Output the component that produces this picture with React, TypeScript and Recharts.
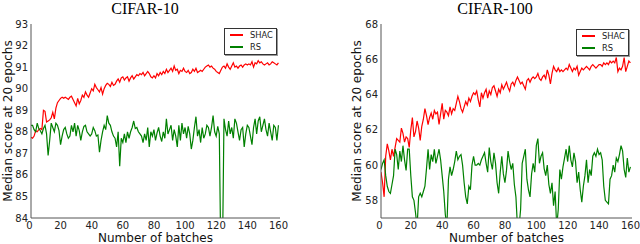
import React from 'react';
import { LineChart, Line, XAxis, YAxis, Legend } from 'recharts';

// CIFAR-10 median score at 20 epochs, batches 0..159
const c10Shac = [
  87.75, 87.7, 87.8, 88.05, 88.0, 88.1, 88.15, 88.1, 89.0, 88.95,
  88.45, 88.5, 88.55, 88.65, 88.9, 88.6, 89.1, 89.35, 89.45, 89.55,
  89.6, 89.55, 89.6, 89.55, 89.5, 89.6, 89.65, 89.5, 89.35, 89.2,
  89.55, 89.3, 89.45, 89.7, 89.6, 89.85, 89.7, 89.6, 89.8, 90.0,
  89.9, 90.2, 90.05, 89.95, 89.85, 90.05, 89.75, 90.0, 90.15, 90.25,
  90.2, 90.1, 90.3, 90.15, 90.2, 90.35, 90.45, 90.3, 90.5, 90.55,
  90.4, 90.5, 90.55, 90.35, 90.5, 90.6, 90.45, 90.55, 90.65, 90.6,
  90.7, 90.65, 90.75, 90.6, 90.7, 90.8, 90.7, 90.55, 90.5, 90.6,
  90.5, 90.7, 90.6, 90.75, 90.65, 90.8, 90.7, 90.9, 90.75, 90.85,
  90.95, 90.8, 91.05, 90.85, 90.9, 90.7, 90.85, 90.8, 90.95, 90.8,
  90.75, 90.85, 90.7, 90.75, 90.9, 90.8, 90.95, 90.75, 90.8, 90.85,
  90.8, 90.9, 91.0, 91.05, 91.1, 91.0, 91.05, 90.95, 90.9, 90.8,
  90.75, 90.7, 90.85, 91.0, 91.05, 90.95, 91.15, 91.0, 90.9, 91.05,
  91.2, 91.0, 91.05, 90.95, 91.05, 91.1, 91.0, 91.1, 91.15, 91.1,
  91.15, 91.1, 91.25, 91.0, 91.2, 91.15, 91.3, 91.2, 91.25, 91.15,
  91.1, 91.15, 91.2, 91.1, 91.15, 91.25, 91.2, 91.15, 91.1, 91.2,
];
const c10Rs = [
  88.3, 88.3, 88.1, 88.0, 88.4, 88.15, 88.05, 87.9, 88.15, 88.3,
  87.9, 86.9, 87.6, 88.4, 88.2, 88.0, 88.4, 88.3, 88.05, 87.4,
  87.8, 88.1, 88.2, 87.9, 87.7, 87.8, 88.3, 88.0, 88.4, 87.8,
  88.3, 88.05, 87.6, 88.0, 88.25, 88.3, 88.0, 87.9, 87.8, 87.9,
  88.2, 88.05, 87.8, 87.85, 87.05, 87.6, 88.0, 88.3, 88.1, 88.75,
  88.4, 88.3, 88.0, 87.8, 87.7, 87.3, 88.0, 86.4, 87.7, 87.5,
  87.9, 87.5, 88.0, 87.7, 88.0, 88.2, 88.5, 88.15, 88.2, 88.0,
  87.9, 87.8, 87.5, 87.9, 87.6, 88.2, 87.3, 88.0, 87.8, 88.1,
  87.6, 87.95, 88.2, 87.8, 87.55, 88.0, 87.7, 88.6, 87.9, 88.1,
  88.3, 87.6, 88.1, 87.8, 87.3, 88.3, 87.6, 88.4, 87.9, 88.2,
  87.7, 88.25, 87.9, 87.2, 87.6, 88.2, 88.7, 87.8, 88.1, 87.5,
  88.2, 87.7, 87.9, 88.3, 88.2, 87.8, 88.2, 88.75, 88.0, 87.8,
  88.25, 87.9, 82.0, 82.0, 88.6, 88.1, 87.8, 88.5, 87.9, 88.2,
  87.7, 88.6, 88.4, 88.0, 87.6, 88.1, 88.2, 87.3, 87.9, 88.3,
  88.2, 87.8, 87.4, 88.2, 88.6, 87.9, 88.5, 88.7, 88.0, 88.3,
  88.6, 88.1, 87.8, 88.4, 88.0, 87.6, 88.3, 88.2, 87.6, 88.3,
];

// CIFAR-100
const c100Shac = [
  59.6, 59.0, 58.2, 60.5, 61.2, 60.8, 60.3, 60.9, 60.5, 61.0,
  61.5, 61.4, 61.3, 62.1, 61.8, 61.3, 61.6, 61.5, 61.0, 62.0,
  62.7, 61.6, 61.9, 62.5, 62.1, 61.4, 62.2, 62.6, 63.2, 62.8,
  62.3, 62.7, 62.95, 62.6, 63.1, 62.9, 63.0, 62.3, 62.9, 63.5,
  62.6, 63.1, 63.0, 62.8, 63.3, 62.9, 63.2, 63.1, 63.5, 63.9,
  63.6, 63.2, 63.0, 63.3, 63.6, 63.4, 63.8, 63.6, 63.9, 64.1,
  64.0, 64.2, 63.7, 63.3, 64.1, 63.8, 64.1, 64.3, 63.8, 64.2,
  64.0, 64.4, 64.5, 64.2, 63.9, 64.3, 64.1, 64.55, 64.3, 64.5,
  64.7, 64.4, 64.2, 64.6, 64.7, 64.5, 64.8, 65.0, 64.8, 64.6,
  64.7, 64.5, 64.3, 64.8, 64.9, 64.7, 64.9, 65.0, 64.9, 65.0,
  65.2, 64.9, 64.8, 65.0, 65.1, 64.9, 65.4, 65.1, 64.6, 65.2,
  65.6, 65.4, 65.3, 65.5, 65.3, 65.4, 65.3, 65.4, 65.5, 65.4,
  65.7, 65.5, 65.3, 65.5, 65.4, 65.6, 65.1, 65.3, 65.5, 65.4,
  65.5, 65.6, 65.5, 65.4, 65.6, 65.7, 65.6, 65.5, 65.6, 65.7,
  65.7, 65.6, 65.8, 65.7, 65.8, 65.7, 65.9, 65.8, 65.9, 65.8,
  66.1, 65.3, 65.5, 65.4, 65.6, 66.1, 65.3, 65.6, 65.9, 65.8,
];
const c100Rs = [
  59.75, 60.1, 60.3, 59.4, 58.8, 58.5, 58.4, 58.9, 59.4, 60.9,
  60.6, 59.75, 60.8, 60.2, 61.1, 60.3, 59.7, 60.9, 60.9, 59.4,
  58.2, 58.0, 57.3, 56.5, 58.2, 58.4, 58.2, 58.5, 58.8, 59.8,
  60.9, 59.75, 60.6, 60.2, 60.9, 60.1, 60.5, 60.9, 60.3, 59.4,
  58.5, 57.2, 56.5, 59.2, 59.9, 59.4, 59.75, 60.2, 60.8, 60.3,
  60.5, 60.6, 60.0, 59.0, 58.2, 57.8, 58.8, 58.6, 60.0, 60.5,
  60.0, 60.0, 60.1, 60.0, 60.3, 60.5, 60.7, 60.1, 59.6, 61.0,
  60.2, 59.75, 60.7, 60.1, 59.0, 58.4, 59.6, 60.5, 59.5, 59.0,
  59.7, 60.8, 60.2, 59.75, 60.1, 58.9, 58.2, 56.5, 56.5, 57.5,
  60.1, 60.5, 60.9, 59.2, 58.6, 58.2, 59.5, 60.1, 59.6, 61.1,
  61.5, 60.1, 60.5, 60.7, 59.8, 59.4, 60.0, 58.9, 58.4, 59.0,
  57.7, 58.5, 56.5, 57.5, 59.75, 59.2, 59.9, 60.4, 60.9, 60.2,
  61.1, 60.3, 59.9, 60.7, 60.2, 59.0, 59.6, 58.6, 57.9, 58.8,
  59.4, 60.3, 59.0, 59.75, 59.4, 60.5, 60.7, 60.5, 60.9, 60.6,
  60.7, 60.3, 58.8, 58.0, 57.9, 57.8, 59.2, 59.4, 60.0, 59.6,
  60.4, 60.2, 60.6, 61.1, 60.8, 59.75, 59.3, 60.4, 59.6, 59.9,
];

const xTicks = [0, 20, 40, 60, 80, 100, 120, 140, 160];
const c10YTicks = [84, 85, 86, 87, 88, 89, 90, 91, 92, 93];
const c100YTicks = [58, 60, 62, 64, 66, 68];
const seriesOrder = ['SHAC', 'RS'];

const FONT = 'DejaVu Sans';
const AXIS = '#555';

const makeRows = (shac: number[], rs: number[]) =>
  shac.map((v, i) => ({ batch: i, shac: v, rs: rs[i] }));

const LegendBox = (props: any) => {
  const payload = [...(props.payload || [])].sort(
    (a: any, b: any) => seriesOrder.indexOf(a.value) - seriesOrder.indexOf(b.value)
  );
  return (
    <div
      style={{
        position: 'relative',
        width: 53,
        height: 27,
        border: '1px solid #333',
        boxShadow: '1px 1px 0 #999',
        background: '#fff',
        boxSizing: 'border-box',
        fontFamily: FONT,
        fontSize: 8.3,
      }}
    >
      {payload.map((e: any, i: number) => (
        <div key={i} style={{ position: 'absolute', left: 0, top: 1 + i * 12, height: 10, width: '100%' }}>
          <div style={{ position: 'absolute', left: 5, top: 4, width: 13, height: 1.5, background: e.color }} />
          <span style={{ position: 'absolute', left: 25, top: 0, lineHeight: '10px', color: '#222', whiteSpace: 'nowrap' }}>
            {e.value}
          </span>
        </div>
      ))}
    </div>
  );
};

type PanelProps = {
  shac: number[];
  rs: number[];
  yDomain: [number, number];
  yTicks: number[];
  marginLeft: number;
  marginRight: number;
  yLabelOffset: number;
  legendLeft: number;
  legendTop: number;
};

const Panel = (p: PanelProps) => {
  const rows = makeRows(p.shac, p.rs);
  const tickStyle = { fontSize: 10, fontFamily: FONT, fill: '#222' };
  return (
    <LineChart
      width={320}
      height={244}
      data={rows}
      margin={{ top: 24, right: p.marginRight, bottom: 0, left: p.marginLeft }}
    >
      <XAxis
        dataKey="batch"
        type="number"
        domain={[0, 160]}
        ticks={xTicks}
        allowDataOverflow
        tickLine={false}
        tickSize={0}
        tickMargin={4}
        height={26}
        tick={{ ...tickStyle, dx: -1.5 }}
        axisLine={{ stroke: AXIS }}
        label={{ value: 'Number of batches', position: 'insideBottom', offset: 2.5, style: { fontSize: 12, fontFamily: FONT, fill: '#111' } }}
      />
      <XAxis
        xAxisId="bm"
        orientation="bottom"
        mirror
        type="number"
        domain={[0, 160]}
        ticks={xTicks}
        allowDataOverflow
        tick={false}
        tickSize={3}
        height={0}
        axisLine={false}
        tickLine={{ stroke: AXIS }}
      />
      <XAxis
        xAxisId="top"
        orientation="top"
        mirror
        type="number"
        domain={[0, 160]}
        ticks={xTicks}
        allowDataOverflow
        tick={false}
        tickSize={3}
        height={0}
        axisLine={{ stroke: AXIS }}
        tickLine={{ stroke: AXIS }}
      />
      <YAxis
        type="number"
        domain={p.yDomain}
        ticks={p.yTicks}
        allowDataOverflow
        width={31}
        tickLine={false}
        tickSize={0}
        tickMargin={3}
        tick={tickStyle}
        axisLine={{ stroke: AXIS }}
        label={{ value: 'Median score at 20 epochs', angle: -90, position: 'insideLeft', offset: p.yLabelOffset, style: { fontSize: 12, fontFamily: FONT, fill: '#111', textAnchor: 'middle' } }}
      />
      <YAxis
        yAxisId="lm"
        orientation="left"
        mirror
        type="number"
        domain={p.yDomain}
        ticks={p.yTicks}
        allowDataOverflow
        tick={false}
        tickSize={3}
        width={0}
        axisLine={false}
        tickLine={{ stroke: AXIS }}
      />
      <YAxis
        yAxisId="rm"
        orientation="right"
        mirror
        type="number"
        domain={p.yDomain}
        ticks={p.yTicks}
        allowDataOverflow
        tick={false}
        tickSize={3}
        width={0}
        axisLine={{ stroke: AXIS }}
        tickLine={{ stroke: AXIS }}
      />
      <Line
        type="linear"
        dataKey="shac"
        name="SHAC"
        stroke="#ff0000"
        strokeWidth={1.2}
        dot={false}
        isAnimationActive={false}
      />
      <Line
        type="linear"
        dataKey="rs"
        name="RS"
        stroke="#008000"
        strokeWidth={1.2}
        dot={false}
        isAnimationActive={false}
      />
      <Legend
        layout="vertical"
        align="center"
        verticalAlign="middle"
        content={<LegendBox />}
        wrapperStyle={{ left: p.legendLeft, top: p.legendTop, width: 53, height: 27 }}
      />
    </LineChart>
  );
};

const titleStyle: React.CSSProperties = {
  position: 'absolute',
  top: 1,
  width: 200,
  textAlign: 'center',
  fontFamily: 'Liberation Serif',
  fontSize: 16,
  lineHeight: '16px',
  color: '#000',
  whiteSpace: 'nowrap',
};

export default function App() {
  return (
    <div style={{ position: 'absolute', left: 0, top: 0, width: 640, height: 244, background: '#fff', overflow: 'hidden' }}>
      <div style={{ position: 'absolute', left: 0, top: 0 }}>
        <Panel
          shac={c10Shac}
          rs={c10Rs}
          yDomain={[84, 93]}
          yTicks={c10YTicks}
          marginLeft={0}
          marginRight={40}
          yLabelOffset={8}
          legendLeft={224}
          legendTop={28}
        />
      </div>
      <div style={{ position: 'absolute', left: 320, top: 0 }}>
        <Panel
          shac={c100Shac}
          rs={c100Rs}
          yDomain={[57, 68]}
          yTicks={c100YTicks}
          marginLeft={30}
          marginRight={8}
          yLabelOffset={7}
          legendLeft={256}
          legendTop={29}
        />
      </div>
      <div style={{ ...titleStyle, left: 145 - 100 }}>CIFAR-10</div>
      <div style={{ ...titleStyle, left: 495 - 100 }}>CIFAR-100</div>
    </div>
  );
}
